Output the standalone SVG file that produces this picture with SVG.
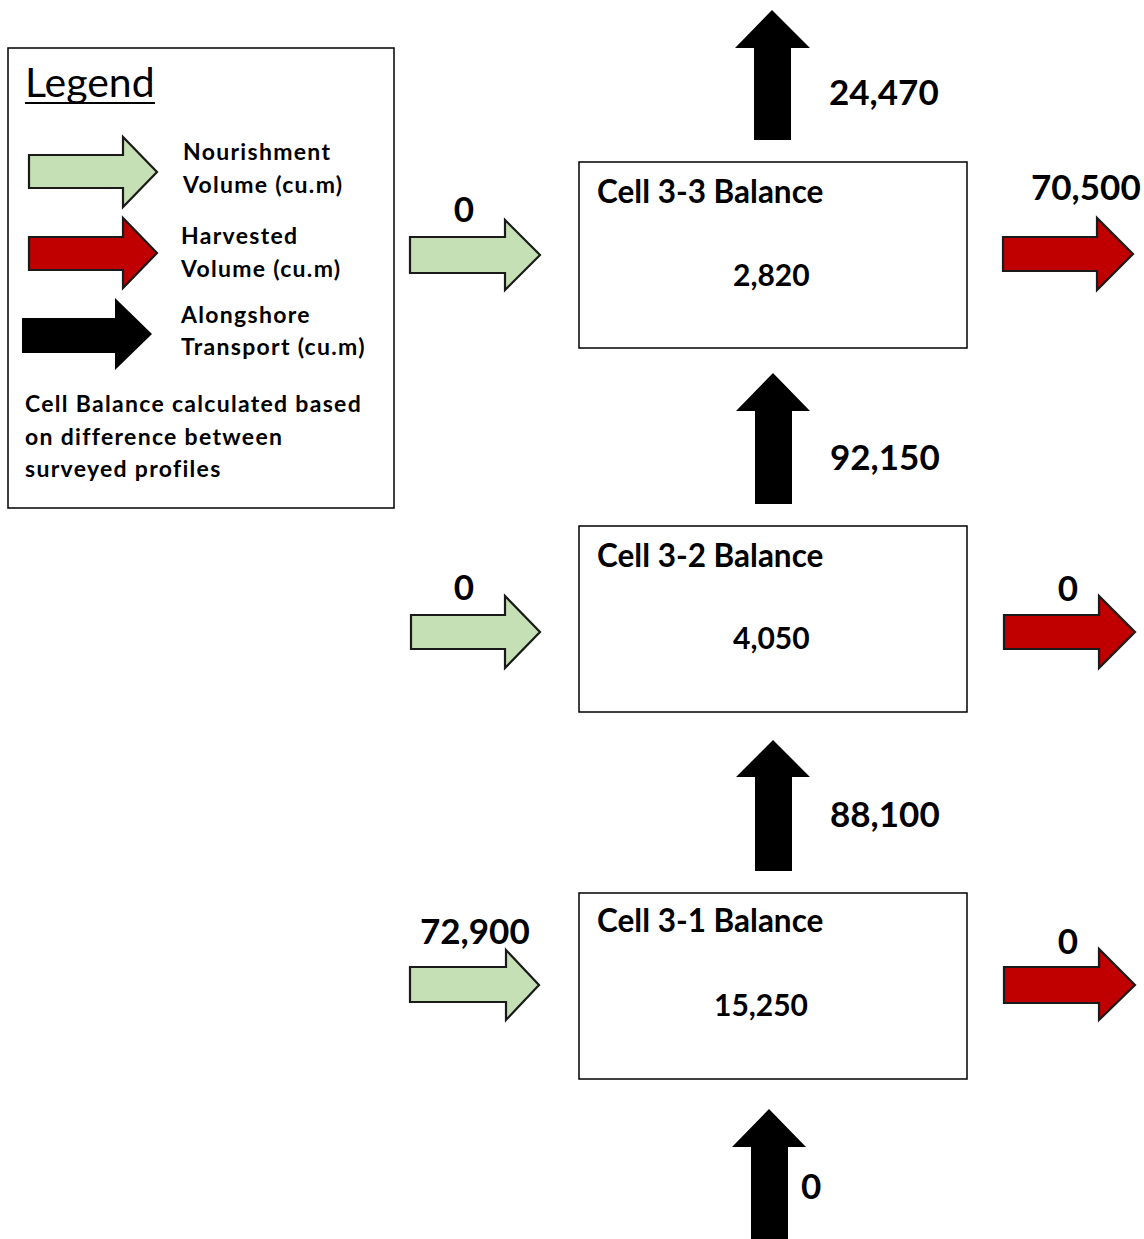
<svg xmlns="http://www.w3.org/2000/svg" width="1144" height="1239" viewBox="0 0 1144 1239">
<style>
text{font-family:Lato,"Liberation Sans",sans-serif;fill:#000;}
.num{font-size:35px;font-weight:bold;}
.cell{font-size:31.5px;font-weight:bold;}
.val{font-size:30px;font-weight:bold;}
.leg{font-size:23px;font-weight:bold;letter-spacing:1.3px;}
.box{fill:#fff;stroke:#000;stroke-width:1.5;}
.green{fill:#c5e0b4;stroke:#1a1a1a;stroke-width:2.2;stroke-linejoin:miter;}
.red{fill:#c00000;stroke:#1a1a1a;stroke-width:2.2;stroke-linejoin:miter;}
.black{fill:#000;stroke:none;}
</style>
<rect width="1144" height="1239" fill="#fff"/>

<g id="legend">
  <rect x="8" y="48" width="386" height="460" class="box"/>
  <text x="25" y="97" font-size="41">Legend</text>
  <line x1="25" y1="103" x2="155" y2="103" stroke="#000" stroke-width="2"/>
  <polygon class="green" points="29,155 123,155 123,137 157,172 123,207 123,188 29,188"/>
  <polygon class="red" points="29,237 123,237 123,218 157,253 123,288 123,270 29,270"/>
  <polygon class="black" points="22,318 115,318 115,298 152,334 115,370 115,353 22,353"/>
  <text class="leg" x="183" y="160">Nourishment</text>
  <text class="leg" x="183" y="193">Volume (cu.m)</text>
  <text class="leg" x="181" y="244">Harvested</text>
  <text class="leg" x="181" y="277">Volume (cu.m)</text>
  <text class="leg" x="181" y="323">Alongshore</text>
  <text class="leg" x="181" y="355">Transport (cu.m)</text>
  <text class="leg" x="25" y="412">Cell Balance calculated based</text>
  <text class="leg" x="25" y="445">on difference between</text>
  <text class="leg" x="25" y="477">surveyed profiles</text>
</g>

<g id="cell33">
  <rect x="579" y="162" width="388" height="186" class="box"/>
  <text class="cell" x="597" y="203">Cell 3-3 Balance</text>
  <text class="val" x="733" y="286">2,820</text>
</g>
<g id="cell32">
  <rect x="579" y="526" width="388" height="186" class="box"/>
  <text class="cell" x="597" y="567">Cell 3-2 Balance</text>
  <text class="val" x="733" y="649">4,050</text>
</g>
<g id="cell31">
  <rect x="579" y="893" width="388" height="186" class="box"/>
  <text class="cell" x="597" y="932">Cell 3-1 Balance</text>
  <text class="val" x="714" y="1016">15,250</text>
</g>

<g id="connectors">
  <polygon class="black" points="754,140 754,48 735,48 772,10 810,48 791,48 791,140"/>
  <text class="num" x="829" y="105">24,470</text>

  <polygon class="black" points="755,504 755,411 736,411 773,373 810,411 792,411 792,504"/>
  <text class="num" x="830" y="470">92,150</text>

  <polygon class="black" points="755,871 755,777 736,777 773,740 810,777 792,777 792,871"/>
  <text class="num" x="830" y="827">88,100</text>

  <polygon class="black" points="751,1239 751,1147 732,1147 769,1109 806,1147 788,1147 788,1239"/>
  <text class="num" x="801" y="1199">0</text>

  <polygon class="green" points="410,237 505,237 505,220 540,255 505,290 505,273 410,273"/>
  <text class="num" x="464" y="222" text-anchor="middle">0</text>
  <polygon class="red" points="1003,237 1097,237 1097,218 1133,254 1097,290 1097,271 1003,271"/>
  <text class="num" x="1031" y="200">70,500</text>

  <polygon class="green" points="411,615 505,615 505,596 540,632 505,668 505,649 411,649"/>
  <text class="num" x="464" y="600" text-anchor="middle">0</text>
  <polygon class="red" points="1004,615 1099,615 1099,596 1135,632 1099,668 1099,649 1004,649"/>
  <text class="num" x="1068" y="601" text-anchor="middle">0</text>

  <polygon class="green" points="410,967 506,967 506,950 539,985 506,1020 506,1002 410,1002"/>
  <text class="num" x="420" y="944">72,900</text>
  <polygon class="red" points="1004,967 1099,967 1099,949 1135,985 1099,1020 1099,1003 1004,1003"/>
  <text class="num" x="1068" y="954" text-anchor="middle">0</text>
</g>
</svg>
